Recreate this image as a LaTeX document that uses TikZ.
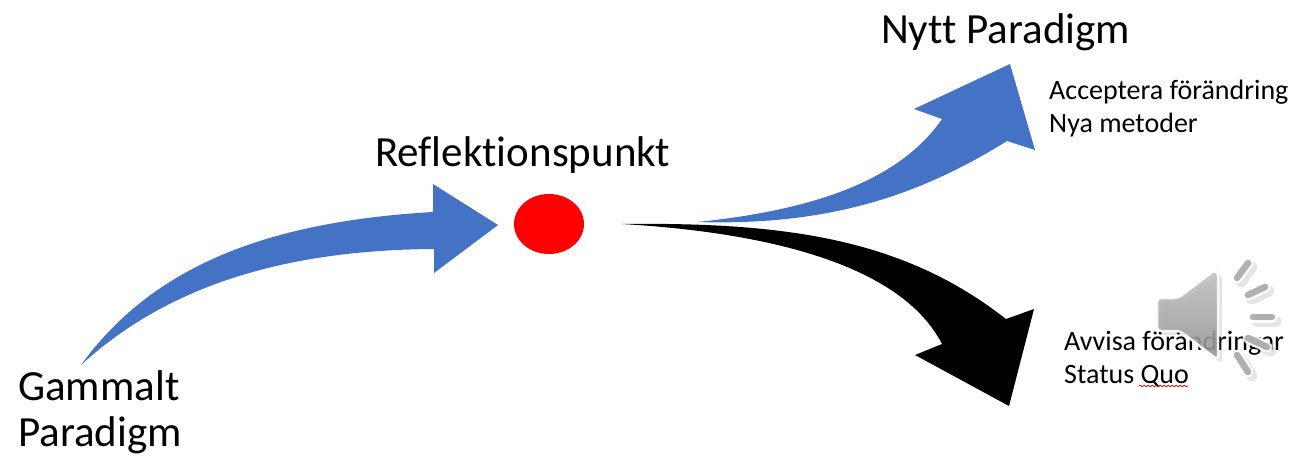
\documentclass[tikz,border=0pt]{standalone}
\usepackage{fontspec}
\setmainfont{Carlito}[RawFeature={-liga}]
\usetikzlibrary{decorations.pathmorphing}
\definecolor{arrowblue}{HTML}{4472C4}
\tikzset{
  big/.style={anchor=base west,inner sep=0pt,font=\fontsize{43}{43}\selectfont},
  small/.style={anchor=base west,inner sep=0pt,font=\fontsize{28}{28}\selectfont},
  ray/.style={line cap=round,line width=11pt},
}
\begin{document}
\begin{tikzpicture}[x=1pt,y=-1pt]
\useasboundingbox (0,0) rectangle (1314,455);
% arrows
\fill[arrowblue] (81,365) .. controls (150,270) and (260,222) .. (433,212) -- (433,184) -- (498,225) -- (434,273) -- (434,249)
  .. controls (280,250) and (165,288) .. (81,365) -- cycle;
\fill[arrowblue] (697,222) .. controls (815,210) and (900,180) .. (942,119) -- (914,109) -- (1010,64) -- (1035,150) -- (1007,141)
  .. controls (920,195) and (830,226) .. (697,222) -- cycle;
\fill[black] (622,224) .. controls (790,222) and (905,240) .. (1006,319) -- (1034,309) -- (1009,406) -- (915,355) -- (942,344)
  .. controls (900,262) and (760,232) .. (622,224) -- cycle;
\fill[red] (549,224) ellipse [x radius=35, y radius=30];
% texts
\node[big] (old1) at (18,400) {Gammalt};
\node[big] (old2) at (18,446) {Paradigm};
\node[big] (refl) at (375,166) {Reflektionspunkt};
\node[big] (new) at (881,43) {Nytt Paradigm};
\node[small] (acc) at (1049,99) {Acceptera förändring};
\node[small] (nya) at (1049,132) {Nya metoder};
\node[small] (avv) at (1064,350) {Avvisa förändringar};
\node[small] (sq) at (1064,383) {Status Quo};
\draw[red!80!black,line width=0.7pt,decorate,decoration={snake,amplitude=0.8pt,segment length=4pt}] (1139,386) -- (1188,386);
% speaker icon shadow
\begin{scope}[xshift=4pt,yshift=-4pt,opacity=0.1]
  \fill[black,rounded corners=4pt] (1157,298) -- (1178,298) -- (1215,270) -- (1218,272) -- (1218,360) -- (1180,331) -- (1157,331) -- cycle;
  \draw[black,ray] (1237,278) -- (1248,263);
  \draw[black,ray] (1248,295) -- (1265,287);
  \draw[black,ray] (1253,317) -- (1272,317);
  \draw[black,ray] (1248,338) -- (1267,347);
  \draw[black,ray] (1237,355) -- (1248,372);
\end{scope}
% speaker icon
\begin{scope}[opacity=0.88]
  \shade[top color=black!24,bottom color=black!42,draw=white,line width=2.5pt,rounded corners=4pt,line join=round]
    (1157,298) -- (1178,298) -- (1215,270) -- (1218,272) -- (1218,360) -- (1180,331) -- (1157,331) -- cycle;
  \foreach \ax/\ay/\bx/\by in {1237/278/1248/263,1248/295/1265/287,1253/317/1272/317,1248/338/1267/347,1237/355/1248/372}{
    \draw[white,ray] (\ax,\ay) -- (\bx,\by);
    \draw[black!35,line cap=round,line width=6.5pt] (\ax,\ay) -- (\bx,\by);
  }
\end{scope}
\end{tikzpicture}
\end{document}
